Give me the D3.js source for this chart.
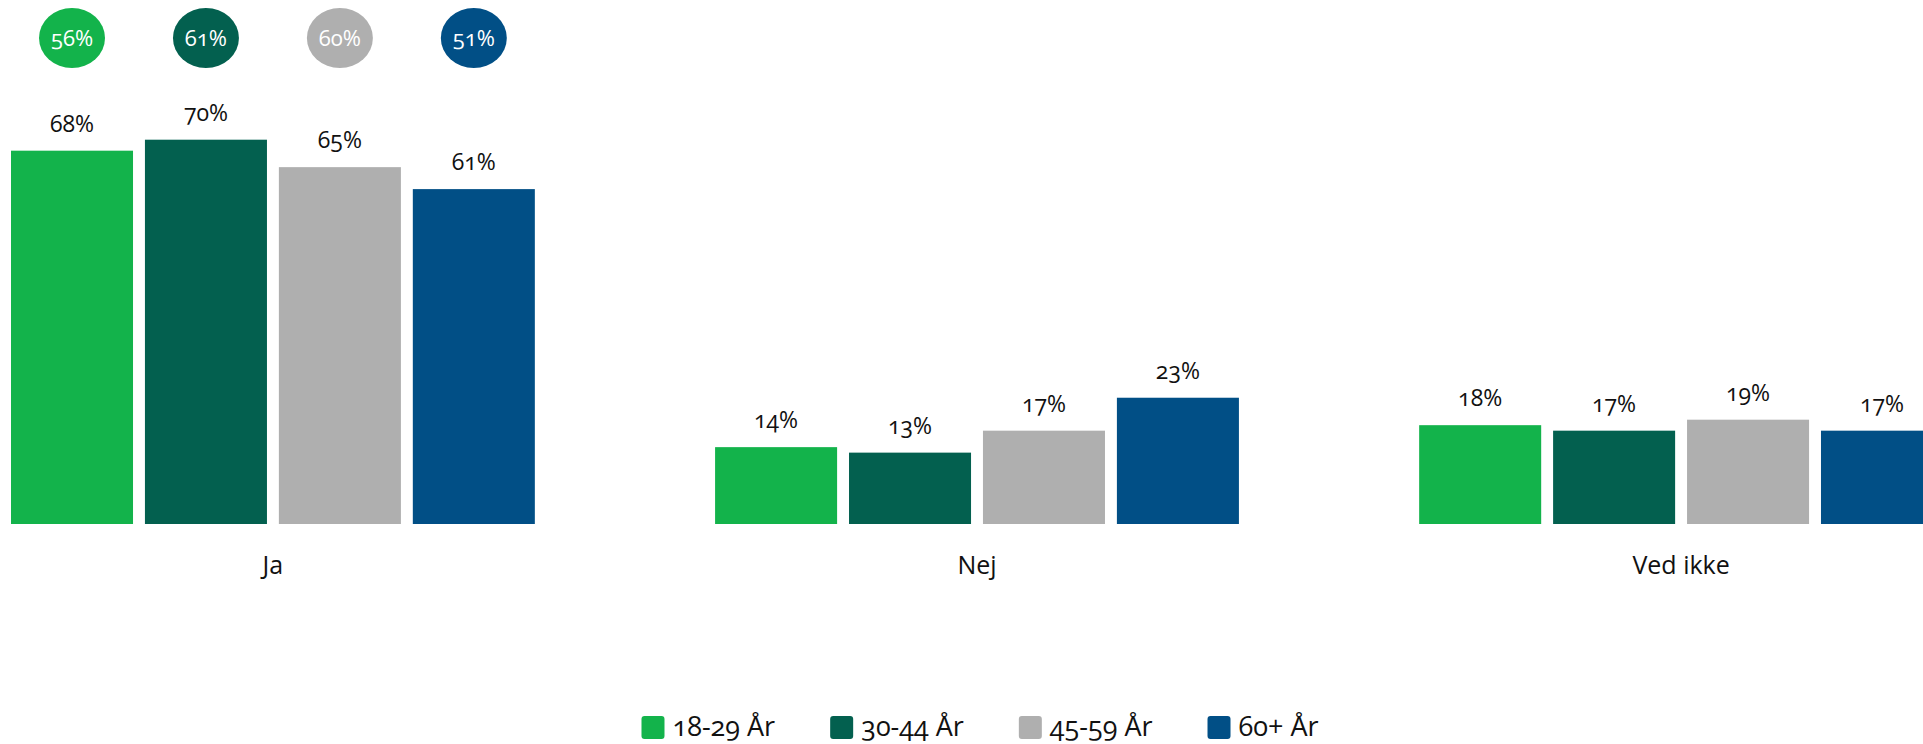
<!DOCTYPE html>
<html>
<head>
<meta charset="utf-8">
<script src="https://d3js.org/d3.v7.min.js"></script>
<style>
  body { margin: 0; background: #fff; }
  svg text { font-family: "Open Sans", "Noto Sans", sans-serif; font-variant-numeric: oldstyle-nums; fill: #111; }
</style>
</head>
<body>
<svg width="1923" height="744"></svg>
<script>
var categories = ["Ja", "Nej", "Ved ikke"];
var series = ["18-29 År", "30-44 År", "45-59 År", "60+ År"];
var colors = ["#13b34b", "#03604f", "#afafaf", "#014f86"];

// share per answer, one value per age group
var ja = [68, 70, 65, 61];
var nej = [14, 13, 17, 23];
var vedIkke = [18, 17, 19, 17];

// bubbles above the Ja group
var bubbleValues = [56, 61, 60, 51];

var answers = [ja, nej, vedIkke];

var svg = d3.select("svg");

var x0 = d3.scaleBand()
    .domain(categories)
    .range([11, 1943])
    .paddingInner(0.256)
    .paddingOuter(0);

var x1 = d3.scaleBand()
    .domain(series)
    .range([0, x0.bandwidth()])
    .paddingInner(0.089);

var y = d3.scaleLinear().domain([0, 100]).range([524, -25]);

var color = d3.scaleOrdinal().domain(series).range(colors);

var groups = svg.append("g").selectAll("g")
    .data(categories)
    .enter().append("g")
    .attr("transform", function(d) { return "translate(" + x0(d) + ",0)"; });

groups.selectAll("rect")
    .data(function(d, i) {
      return series.map(function(s, j) { return {s: s, v: answers[i][j]}; });
    })
    .enter().append("rect")
    .attr("x", function(d) { return x1(d.s); })
    .attr("y", function(d) { return y(d.v); })
    .attr("width", x1.bandwidth())
    .attr("height", function(d) { return y(0) - y(d.v); })
    .attr("fill", function(d) { return color(d.s); });

groups.selectAll("text.val")
    .data(function(d, i) {
      return series.map(function(s, j) { return {s: s, v: answers[i][j]}; });
    })
    .enter().append("text")
    .attr("class", "val")
    .attr("x", function(d) { return x1(d.s) + x1.bandwidth() / 2; })
    .attr("y", function(d) { return y(d.v) - 19; })
    .attr("text-anchor", "middle")
    .style("font-size", "23px")
    .text(function(d) { return d.v + "%"; });

// category axis
var axis = svg.append("g")
    .attr("transform", "translate(0," + y(0) + ")")
    .call(d3.axisBottom(x0).tickSize(0).tickPadding(32));
axis.select(".domain").remove();
axis.selectAll("text")
    .style("font-size", "25px")
    .style("font-family", "'Open Sans', sans-serif")
    .attr("fill", "#111");

// bubbles
var bub = svg.append("g");
bub.selectAll("ellipse")
    .data(bubbleValues)
    .enter().append("ellipse")
    .attr("cx", function(d, i) { return x0("Ja") + x1(series[i]) + x1.bandwidth() / 2; })
    .attr("cy", 38)
    .attr("rx", 33)
    .attr("ry", 30)
    .attr("fill", function(d, i) { return colors[i]; });
bub.selectAll("text")
    .data(bubbleValues)
    .enter().append("text")
    .attr("x", function(d, i) { return x0("Ja") + x1(series[i]) + x1.bandwidth() / 2; })
    .attr("y", 46)
    .attr("text-anchor", "middle")
    .style("font-size", "22px")
    .style("fill", "#fff")
    .text(function(d) { return d + "%"; });

// legend
var legend = svg.append("g");
var xPos = 0;
series.forEach(function(s, i) {
  var item = legend.append("g").attr("transform", "translate(" + xPos + ",0)");
  item.append("rect")
      .attr("x", 0).attr("y", 716)
      .attr("width", 23).attr("height", 23)
      .attr("rx", 3)
      .attr("fill", colors[i]);
  var t = item.append("text")
      .attr("x", 31).attr("y", 736)
      .style("font-size", "27px")
      .text(s);
  xPos += 31 + t.node().getComputedTextLength() + 55;
});
var legendWidth = xPos - 55;
legend.attr("transform", "translate(" + (980 - legendWidth / 2) + ",0)");
</script>
</body>
</html>
